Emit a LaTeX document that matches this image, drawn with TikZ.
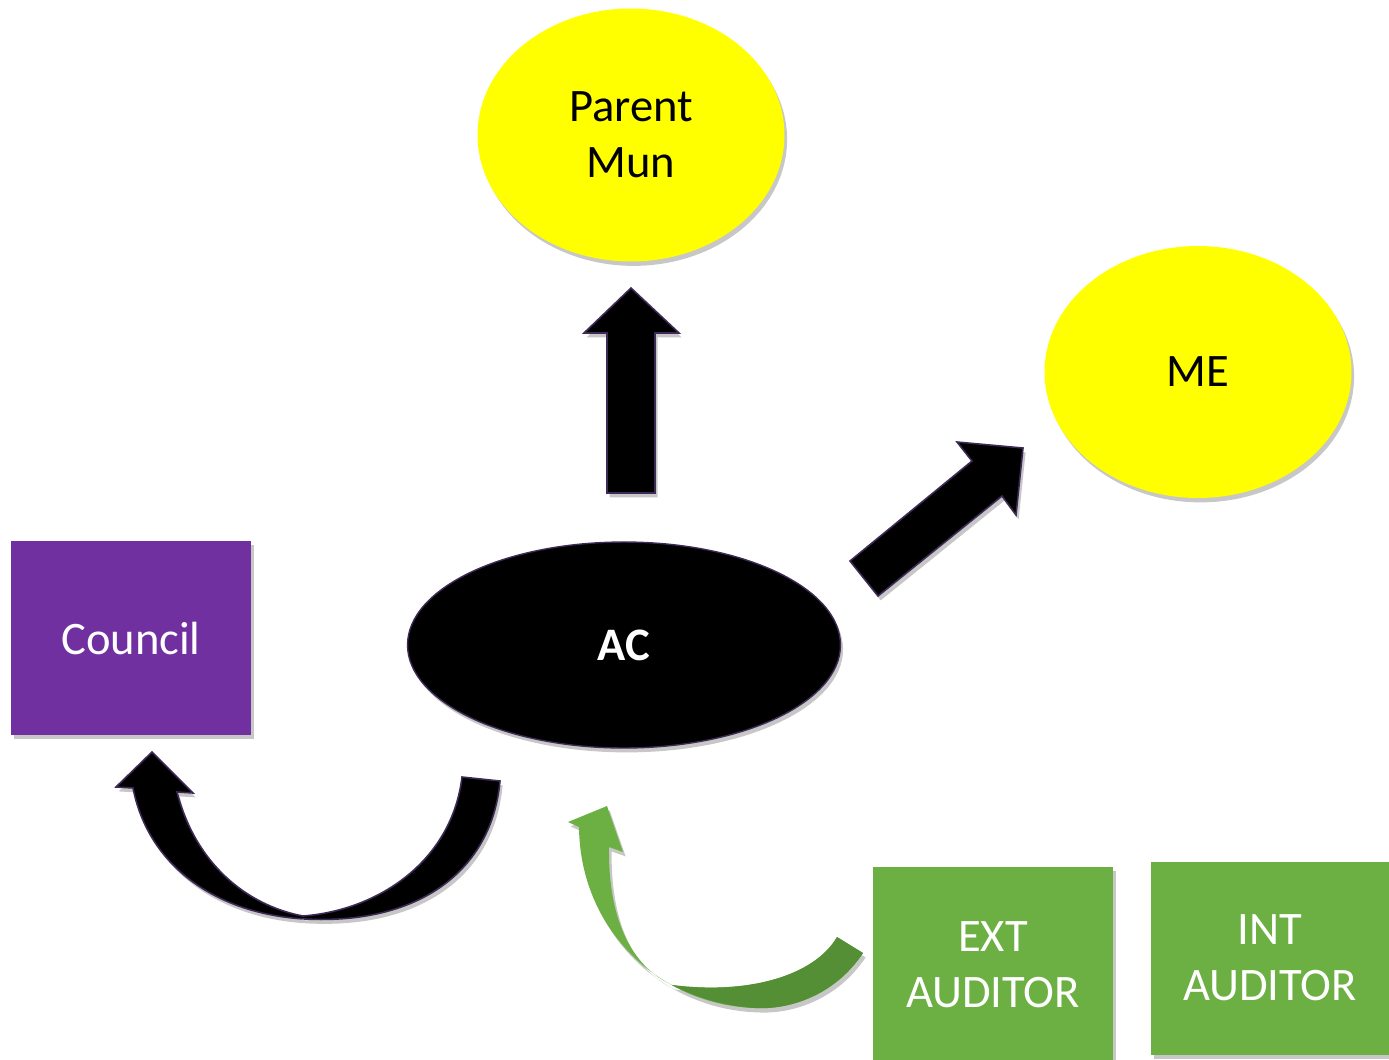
\documentclass[tikz,border=0pt]{standalone}
\usepackage{fontspec}
\setmainfont{Carlito}
\usetikzlibrary{shapes.geometric,shadows}
\definecolor{ylw}{HTML}{FFFF00}
\definecolor{purp}{HTML}{7030A0}
\definecolor{grn}{HTML}{6CB043}
\definecolor{dgrn}{HTML}{558F35}
\definecolor{edge}{HTML}{3D2A55}
\tikzset{
  shd/.style={drop shadow={shadow xshift=1.5pt, shadow yshift=-2.5pt, opacity=0.22, fill=black}},
  ell/.style={ellipse, inner sep=0pt, shd, font=\fontsize{26.5}{32}\selectfont, align=center},
  box/.style={rectangle, inner sep=0pt, shd, font=\fontsize{26.5}{32}\selectfont, align=center, text=white},
  blk/.style={fill=black, draw=edge, line width=0.9pt, line join=miter, shd},
}
\begin{document}
\begin{tikzpicture}[x=0.02cm, y=-0.02cm]
\useasboundingbox (0,0) rectangle (1389,1059);
\fill[white] (0,0) rectangle (1389,1059);

% nodes
\node[ell, fill=ylw, minimum width=6.14cm, minimum height=5.06cm] (pm) at (631,135) {Parent\\Mun};
\node[ell, fill=ylw, minimum width=6.14cm, minimum height=5.04cm] (me) at (1198,372) {ME};
\node[ell, fill=black, draw=edge, line width=0.8pt, text=white, minimum width=8.66cm, minimum height=4.12cm] (ac) at (624,645) {\bfseries AC};
\node[box, fill=purp, minimum width=4.8cm, minimum height=3.88cm] (council) at (131,638) {Council};
\node[box, fill=grn, minimum width=4.8cm, minimum height=3.92cm] (ext) at (993,965) {EXT\\AUDITOR};
\node[box, fill=grn, minimum width=4.76cm, minimum height=3.86cm] (int) at (1270,958) {INT\\AUDITOR};

% up arrow to Parent Mun
\draw[blk] (607,493) -- (607,333) -- (584,333) -- (631,288) -- (679,333) -- (655,333) -- (655,493) -- cycle;

% diagonal arrow to ME
\draw[blk] (850,561) -- (972,461) -- (957,442) -- (1023,448) -- (1016,515) -- (1002,496) -- (878,596) -- cycle;

% curved arrow to Council
\draw[blk] (500,781) .. controls (492,870) and (420,925) .. (305,919)
  .. controls (215,914) and (148,865) .. (133,788)
  -- (116,787) -- (152,752) -- (193,793) -- (177,792)
  .. controls (195,862) and (245,905) .. (303,916)
  .. controls (380,910) and (452,860) .. (462,777) -- cycle;

% green curved arrow from EXT AUDITOR
\fill[grn, shd] (863,953) .. controls (835,995) and (790,1010) .. (755,1008)
  .. controls (660,1005) and (580,930) .. (579,827)
  -- (568,822) -- (607,806) -- (623,852) -- (609,847)
  .. controls (608,925) and (635,968) .. (672,985)
  .. controls (750,995) and (815,975) .. (837,937) -- cycle;
\fill[dgrn] (863,953) .. controls (835,995) and (790,1010) .. (755,1008)
  .. controls (722,1006) and (695,997) .. (672,985)
  .. controls (750,995) and (815,975) .. (837,937) -- cycle;
\end{tikzpicture}
\end{document}
